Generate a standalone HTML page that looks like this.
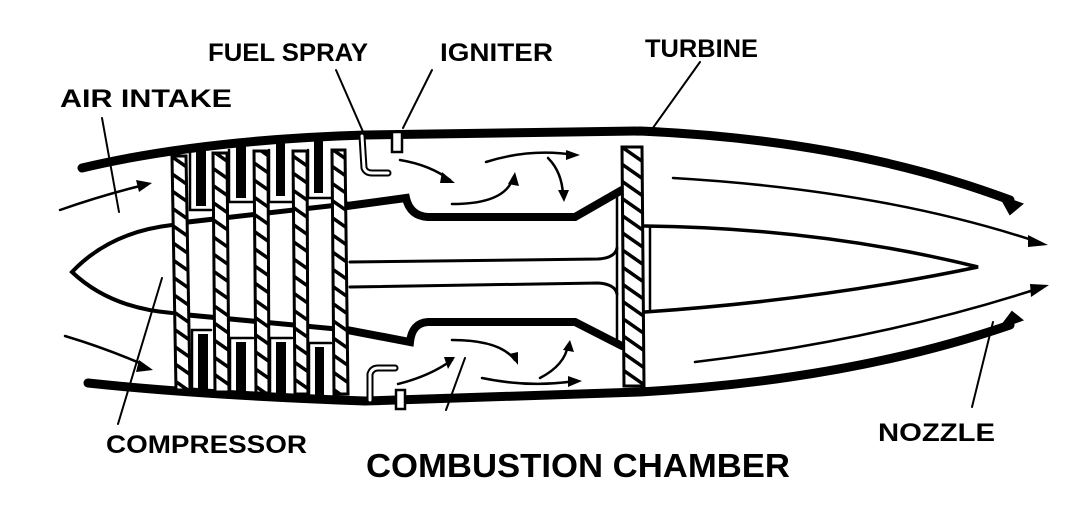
<!DOCTYPE html>
<html><head><meta charset="utf-8"><style>
html,body{margin:0;padding:0;background:#fff}
svg{display:block}
text{font-family:"Liberation Sans",sans-serif;fill:#000;font-weight:bold}
</style></head><body>
<svg width="1077" height="531" viewBox="0 0 1077 531" xmlns="http://www.w3.org/2000/svg">
<defs>
<pattern id="h" width="20" height="14" patternUnits="userSpaceOnUse" patternTransform="rotate(35)">
<rect width="20" height="14" fill="#fff"/><rect y="0" width="20" height="3.5" fill="#000"/>
</pattern>
</defs>
<g fill="none" stroke="#000" stroke-linecap="round">
<!-- casing -->
<path d="M82,168 Q200,140 365,135 L640,131 Q850,140 1010,200" stroke-width="9"/>
<path d="M1000,196 L1022,204 L1010,214 Z" fill="#000" stroke-width="2"/>
<path d="M88,383 Q200,395 365,401 L640,392 Q850,380 1010,325" stroke-width="9"/>
<path d="M1000,328 L1022,320 L1012,312 Z" fill="#000" stroke-width="2"/>
<!-- spinner & hub -->
<path d="M172,225 Q110,232 72,272 Q110,308 172,313" stroke-width="4"/>
<path d="M188,222 L347,204" stroke-width="5"/>
<path d="M188,315 L347,330" stroke-width="5"/>
<!-- combustion walls -->
<path d="M347,206 L406,198 Q410,216 428,217 L575,217 L622,190" stroke-width="8"/>
<path d="M347,330 L410,342 Q412,323 428,322 L575,322 L622,346" stroke-width="8"/>
<path d="M350,262 L598,259 Q615,258 617,248" stroke-width="3"/>
<path d="M350,287 L598,283 Q615,284 617,294" stroke-width="3"/>
<path d="M617,196 L617,342" stroke-width="2.5"/>
<!-- stator teeth top -->
<path d="M190,150 V210 H211 M229,150 V202 H253 M269,150 V202 H292 M308,150 V198 H331" stroke-width="2.5"/>
<rect x="196" y="144" width="10" height="62" fill="#000" stroke="none"/>
<rect x="236" y="142" width="10" height="56" fill="#000" stroke="none"/>
<rect x="276" y="140" width="9" height="56" fill="#000" stroke="none"/>
<rect x="314" y="139" width="9" height="54" fill="#000" stroke="none"/>
<!-- stator teeth bottom -->
<path d="M192,394 V330 H211 M230,396 V338 H253 M270,397 V338 H292 M309,398 V343 H331" stroke-width="2.5"/>
<rect x="198" y="334" width="10" height="62" fill="#000" stroke="none"/>
<rect x="236" y="342" width="10" height="56" fill="#000" stroke="none"/>
<rect x="276" y="342" width="10" height="57" fill="#000" stroke="none"/>
<rect x="315" y="347" width="9" height="53" fill="#000" stroke="none"/>
<!-- blades -->
<g stroke-width="3" fill="url(#h)">
<path d="M172,156 L186,156 L190,390 L176,390 Z"/>
<path d="M213,153 L227,153 L229,392 L215,392 Z"/>
<path d="M254,151 L268,151 L269,393 L256,393 Z"/>
<path d="M293,151 L307,151 L308,394 L295,394 Z"/>
<path d="M332,150 L345,150 L348,394 L334,394 Z"/>
<path d="M622,147 L642,147 L644,386 L624,386 Z"/>
</g>
<!-- afterbody cone -->
<path d="M645,226 Q820,228 978,267 Q820,300 645,312" stroke-width="3.5"/>
<path d="M650,226 L650,311" stroke-width="2.5"/>
<!-- fuel sprays and igniters -->
<path d="M362,136 L364,168 Q366,173 372,173 L388,173" stroke-width="7"/>
<path d="M362,136 L364,168 Q366,173 372,173 L388,173" stroke="#fff" stroke-width="3"/>
<rect x="392" y="132" width="10" height="20" fill="#fff" stroke-width="2.5"/>
<path d="M370,400 L370,374 Q372,368 378,368 L395,368" stroke-width="7"/>
<path d="M370,400 L370,374 Q372,368 378,368 L395,368" stroke="#fff" stroke-width="3"/>
<rect x="396" y="390" width="9" height="19" fill="#fff" stroke-width="2.5"/>
<!-- leader lines -->
<g stroke-width="2">
<path d="M102,118 L119,212"/>
<path d="M336,70 L364,134"/>
<path d="M432,70 L403,128"/>
<path d="M700,62 L650,132"/>
<path d="M162,278 L118,424"/>
<path d="M465,358 L446,410"/>
<path d="M993,322 L972,407"/>
</g>
<!-- flow lines -->
<g stroke-width="2.5">
<path d="M60,210 Q100,196 140,186"/>
<path d="M65,336 Q105,348 142,364"/>
<path d="M400,160 Q430,165 450,180"/>
<path d="M486,162 Q530,148 575,155"/>
<path d="M452,204 Q505,204 513,178"/>
<path d="M548,158 Q562,172 563,195"/>
<path d="M398,384 Q430,376 452,360"/>
<path d="M452,340 Q500,340 515,360"/>
<path d="M482,378 Q530,388 575,381"/>
<path d="M540,378 Q565,365 568,345"/>
<path d="M673,178 Q880,190 1035,241"/>
<path d="M695,362 Q880,340 1040,288"/>
</g>
</g>
<!-- arrowheads -->
<g fill="#000">
<polygon points="152,183 136,180 139,192"/>
<polygon points="153,370 139,360 136,372"/>
<polygon points="455,183 442,172 440,183"/>
<polygon points="580,155 566,150 566,160"/>
<polygon points="515,172 508,184 519,186"/>
<polygon points="564,202 558,190 569,190"/>
<polygon points="455,357 444,357 448,369"/>
<polygon points="518,365 509,354 518,352"/>
<polygon points="582,381 568,376 568,387"/>
<polygon points="570,340 563,350 574,352"/>
<polygon points="1048,245 1028,235 1028,247"/>
<polygon points="1049,285 1030,284 1031,297"/>
</g>
<!-- labels -->
<text x="60" y="107" font-size="25" textLength="172" lengthAdjust="spacingAndGlyphs">AIR INTAKE</text>
<text x="208" y="61" font-size="25" textLength="160" lengthAdjust="spacingAndGlyphs">FUEL SPRAY</text>
<text x="440" y="61" font-size="25" textLength="113" lengthAdjust="spacingAndGlyphs">IGNITER</text>
<text x="645" y="57" font-size="25" textLength="113" lengthAdjust="spacingAndGlyphs">TURBINE</text>
<text x="106" y="453" font-size="25" textLength="201" lengthAdjust="spacingAndGlyphs">COMPRESSOR</text>
<text x="366" y="477" font-size="33" textLength="424" lengthAdjust="spacingAndGlyphs">COMBUSTION CHAMBER</text>
<text x="878" y="441" font-size="25" textLength="117" lengthAdjust="spacingAndGlyphs">NOZZLE</text>
</svg>
</body></html>
